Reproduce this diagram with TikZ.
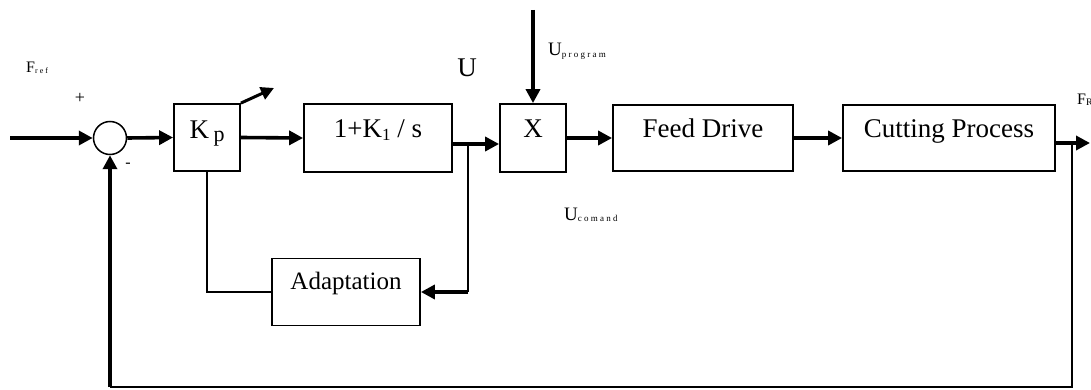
\documentclass[tikz,border=0pt]{standalone}
\usepackage{fontspec}
\setmainfont{Liberation Serif}
\newfontfamily\subfont[LetterSpace=25]{Liberation Serif}
\usetikzlibrary{arrows.meta,calc}
\begin{document}
\begin{tikzpicture}[x=1pt,y=-1pt,
  blk/.style={draw, line width=1.8pt, inner sep=0pt},
  sig/.style={line width=3.6pt, -{Triangle[length=14pt,width=14pt]}},
  thinline/.style={line width=1.6pt},
  boxtxt/.style={anchor=base, inner sep=0pt, font=\fontsize{27}{27}\selectfont},
  lbl/.style={inner sep=0pt}]
\useasboundingbox (0,0) rectangle (1091,390);
\fill[white] (0,0) rectangle (1091,390);

% blocks
\node[draw, circle, line width=1.5pt, minimum size=33pt, inner sep=0pt] (sum) at (110,138) {};
\node[blk, minimum width=66pt, minimum height=67pt] (kp) at (207,137.5) {};
\node[blk, minimum width=148pt, minimum height=68pt] (int) at (378,138) {};
\node[blk, minimum width=66pt, minimum height=68pt] (x) at (533,138) {};
\node[blk, minimum width=180pt, minimum height=66pt] (fd) at (703,138) {};
\node[blk, minimum width=212pt, minimum height=66pt] (cp) at (949,138) {};
\node[blk, minimum width=148pt, minimum height=67pt] (ad) at (346,292) {};

% block texts
\node[boxtxt] (kpt) at (207,139) {K\,\raisebox{-3pt}{\fontsize{22}{22}\selectfont p}};
\node[boxtxt] (intt) at (378,138) {1+K\raisebox{-3pt}{\fontsize{17}{17}\selectfont 1} / s};
\node[boxtxt] (xt) at (533,138) {X};
\node[boxtxt] (fdt) at (703,138) {Feed Drive};
\node[boxtxt] (cpt) at (949,138) {Cutting Process};
\node[boxtxt, font=\fontsize{25}{25}\selectfont] (adt) at (346,289) {Adaptation};

% free ends
\coordinate (in) at (10,138);
\coordinate (up) at (533,10);
\coordinate (br) at (468,144);
\coordinate (out) at (1090,143);
\coordinate (fb) at (1072,143);
\coordinate (fbr) at (1072,387);
\coordinate (fbl) at (110,387);
\coordinate (adj) at (274,88);

% connectors
\draw[sig] (in) -- (sum.west);
\draw[sig] (sum.east) -- (kp.west);
\draw[sig] (kp.east) -- (int.west);
\draw[sig] ($(int.east)+(0,6)$) -- ($(x.west)+(0,6)$);
\draw[sig] (up) -- (x.north);
\draw[sig] (x.east) -- (fd.west);
\draw[sig] (fd.east) -- (cp.west);
\draw[sig] ($(cp.east)+(0,5)$) -- (out);
\draw[line width=3pt, -{Triangle[length=13pt,width=13pt]}] (kp.north east) -- (adj);
\draw[thinline] (br) -- (br |- ad.east);
\draw[sig] (br |- ad.east) -- (ad.east);
\draw[thinline] (kp.south) |- (ad.west);
\draw[thinline] (fb) -- (fbr) -- (fbl);
\draw[sig] (fbl) -- (sum.south);

% labels
\node[boxtxt] (ul) at (467,77) {U};
\node[lbl, anchor=base west] (upl) at (548,56) {\fontsize{19}{19}\selectfont U\raisebox{-2pt}{\subfont\fontsize{9}{9}\selectfont program}};
\node[lbl, anchor=base west] (ucl) at (564,220) {\fontsize{19}{19}\selectfont U\raisebox{-1pt}{\subfont\fontsize{9}{9}\selectfont comand}};
\node[lbl, anchor=base west] (frl) at (26,73) {\fontsize{16}{16}\selectfont F\raisebox{-1pt}{\subfont\fontsize{8}{8}\selectfont ref}};
\node[lbl, anchor=base west] (fRl) at (1077,105) {\fontsize{16}{16}\selectfont F\raisebox{-1pt}{\fontsize{10}{10}\selectfont R}};
\node[lbl, font=\fontsize{18}{18}\selectfont] (plus) at (80,98) {+};
\node[lbl, font=\fontsize{16}{16}\selectfont] (minus) at (128,165) {-};
\end{tikzpicture}
\end{document}
